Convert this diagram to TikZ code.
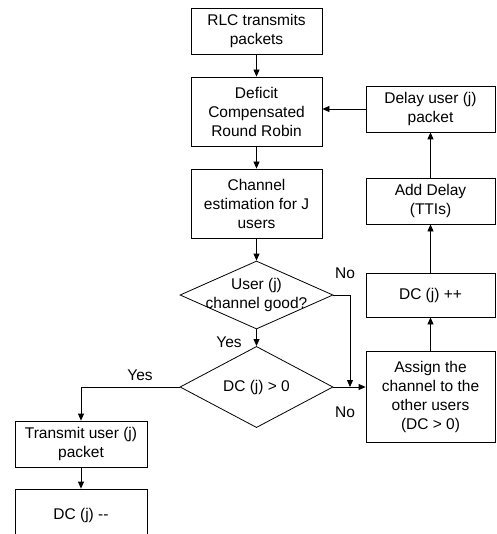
\documentclass[tikz,border=0pt]{standalone}
\usepackage{fontspec}
\setmainfont{Liberation Sans}
\usepackage{tikz}
\usetikzlibrary{arrows.meta,shapes.geometric}

\tikzset{
  box/.style={draw, line width=0.8pt, align=center, minimum width=131pt, inner sep=2pt},
  decision/.style={draw, diamond, line width=0.8pt, inner sep=0pt, minimum width=153pt, minimum height=68pt},
  flow/.style={line width=0.8pt, -{Triangle[length=7pt,width=6pt]}},
  lbl/.style={inner sep=0pt}
}

\begin{document}
\begin{tikzpicture}[x=1pt,y=-1pt,font=\fontsize{15.5}{19}\selectfont]
\useasboundingbox (0,0) rectangle (496,534);
\clip (0,0) rectangle (496,534);
% main column
\node[box, minimum height=46pt] (rlc) at (256.5,31) {RLC transmits\\packets};
\node[box, minimum height=69pt] (dcrr) at (256.5,111.5) {Deficit\\Compensated\\Round Robin};
\node[box, minimum height=69pt] (est) at (256.5,203.5) {Channel\\estimation for J\\users};
\node[decision, label={[align=center]center:User (j)\\channel good?}] (good) at (256.5,295) {};
\node[decision] (dcpos) at (256.5,387) {DC (j) > 0};
% right column
\node[box, minimum width=129pt, minimum height=46pt] (delay) at (430.5,109) {Delay user (j)\\packet};
\node[box, minimum width=129pt, minimum height=46pt] (adddelay) at (430.5,201) {Add Delay\\(TTIs)};
\node[box, minimum width=129pt, minimum height=44pt] (dcinc) at (430.5,295) {DC (j) ++};
\node[box, minimum width=129pt, minimum height=91pt] (assign) at (430.5,396.5) {Assign the\\channel to the\\other users\\(DC > 0)};
% left column
\node[box, minimum width=132pt, minimum height=46pt] (transmit) at (81,444) {Transmit user (j)\\packet};
\node[box, minimum width=132pt, minimum height=52pt] (dcdec) at (81,515) {DC (j) {-}{-}};
\coordinate (join) at (350,387);

\draw[flow] (rlc) -- (dcrr);
\draw[flow] (dcrr) -- (est);
\draw[flow] (est) -- (good);
\draw[flow] (good) -- (dcpos);
\draw[flow] (good.east) -| (join);
\draw[flow] (dcpos.east) -- (dcpos.east -| assign.west);
\draw[flow] (assign) -- (dcinc);
\draw[flow] (dcinc) -- (adddelay);
\draw[flow] (adddelay) -- (delay);
\draw[flow] (delay.west) -- (delay.west -| dcrr.east);
\draw[flow] (dcpos.west) -| (transmit.north);
\draw[flow] (transmit) -- (dcdec);

\node[lbl] (yes1) at (229,342) {Yes};
\node[lbl] (no1) at (345,273) {No};
\node[lbl] (no2) at (345,412) {No};
\node[lbl] (yes2) at (140,375) {Yes};
\end{tikzpicture}
\end{document}
